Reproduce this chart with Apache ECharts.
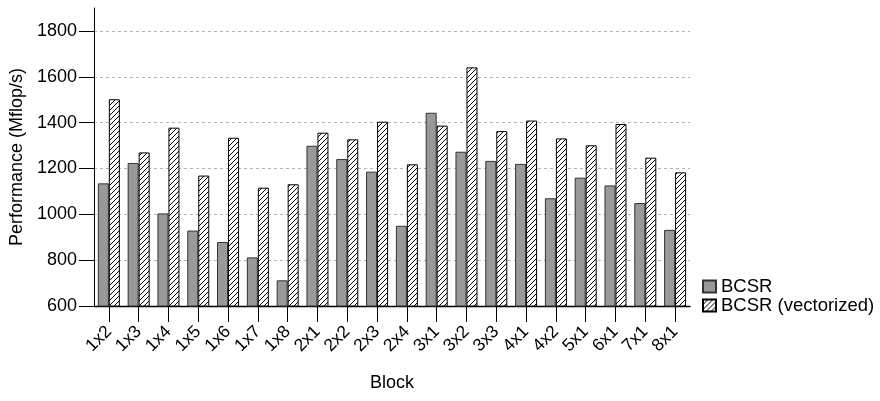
<!DOCTYPE html>
<html>
<head>
<meta charset="utf-8">
<script src="https://cdn.jsdelivr.net/npm/echarts@6/dist/echarts.min.js"></script>
<style>html,body{margin:0;padding:0;background:#fff}#c{width:880px;height:401px}</style>
</head>
<body>
<div id="c"></div>
<script>
const categories = ['1x2','1x3','1x4','1x5','1x6','1x7','1x8','2x1','2x2','2x3','2x4','3x1','3x2','3x3','4x1','4x2','5x1','6x1','7x1','8x1'];
const bcsr = [1135,1224,1004,929,879,812,712,1299,1241,1186,950,1443,1273,1233,1220,1070,1160,1126,1049,932];
const bcsrVec = [1502,1270,1378,1169,1334,1116,1131,1356,1327,1404,1218,1387,1641,1363,1409,1331,1301,1394,1247,1183];
const yTicks = [600,800,1000,1200,1400,1600,1800];
const yMin = 600, yMax = 1900;

function hatch() {
  const s = 5, c = document.createElement('canvas');
  c.width = s; c.height = s;
  const g = c.getContext('2d');
  g.fillStyle = '#fff'; g.fillRect(0,0,s,s);
  g.strokeStyle = '#000'; g.lineWidth = 1;
  g.beginPath();
  g.moveTo(-1, s+1); g.lineTo(s+1, -1);
  g.moveTo(-1, 1); g.lineTo(1, -1);
  g.moveTo(s-1, s+1); g.lineTo(s+1, s-1);
  g.stroke();
  return c;
}

const font = 'Liberation Sans, Arial, Helvetica, sans-serif';
const chart = echarts.init(document.getElementById('c'), null, {renderer:'canvas'});
chart.setOption({
  animation: false,
  textStyle: {fontFamily: font},
  grid: {left: 93.4, right: 190, top: 8, bottom: 95, containLabel: false},
  legend: {
    orient: 'vertical', left: 697, top: 272,
    itemWidth: 13, itemHeight: 12, itemGap: 0,
    textStyle: {fontSize: 18.5, color: '#000', fontFamily: font},
    icon: 'rect',
    data: ['BCSR', 'BCSR (vectorized)']
  },
  xAxis: {
    type: 'category', data: categories,
    name: 'Block', nameLocation: 'middle', nameGap: 68,
    nameTextStyle: {fontSize: 18, color: '#000', fontFamily: font},
    axisLine: {show: true, lineStyle: {color: '#000', width: 1.3}},
    axisTick: {show: true, alignWithLabel: true, length: 16, lineStyle: {color: '#000', width: 1}},
    axisLabel: {rotate: 45, margin: 23, fontSize: 17.5, color: '#000', fontFamily: font, interval: 0},
    splitLine: {show: false}
  },
  yAxis: {
    type: 'value', min: yMin, max: yMax, interval: 200,
    name: 'Performance (Mflop/s)', nameLocation: 'middle', nameGap: 57,
    nameTextStyle: {fontSize: 18, color: '#000', fontFamily: font},
    axisLine: {show: true, lineStyle: {color: '#000', width: 1}},
    axisTick: {show: true, length: 15, customValues: yTicks, lineStyle: {color: '#000', width: 1}},
    axisLabel: {margin: 17, fontSize: 18, color: '#000', fontFamily: font, customValues: yTicks,
                formatter: v => String(v)},
    splitLine: {show: true, lineStyle: {color: '#b4b4b4', type: [3,3], width: 1}}
  },
  series: [
    {
      name: 'BCSR', type: 'bar', data: bcsr, barWidth: 11, barGap: '0%',
      itemStyle: {color: '#999999', borderColor: '#333', borderWidth: 1}
    },
    {
      name: 'BCSR (vectorized)', type: 'bar', data: bcsrVec, barWidth: 11, barGap: '0%',
      itemStyle: {color: {image: hatch(), repeat: 'repeat'}, borderColor: '#000', borderWidth: 1}
    }
  ]
});
</script>
</body>
</html>
